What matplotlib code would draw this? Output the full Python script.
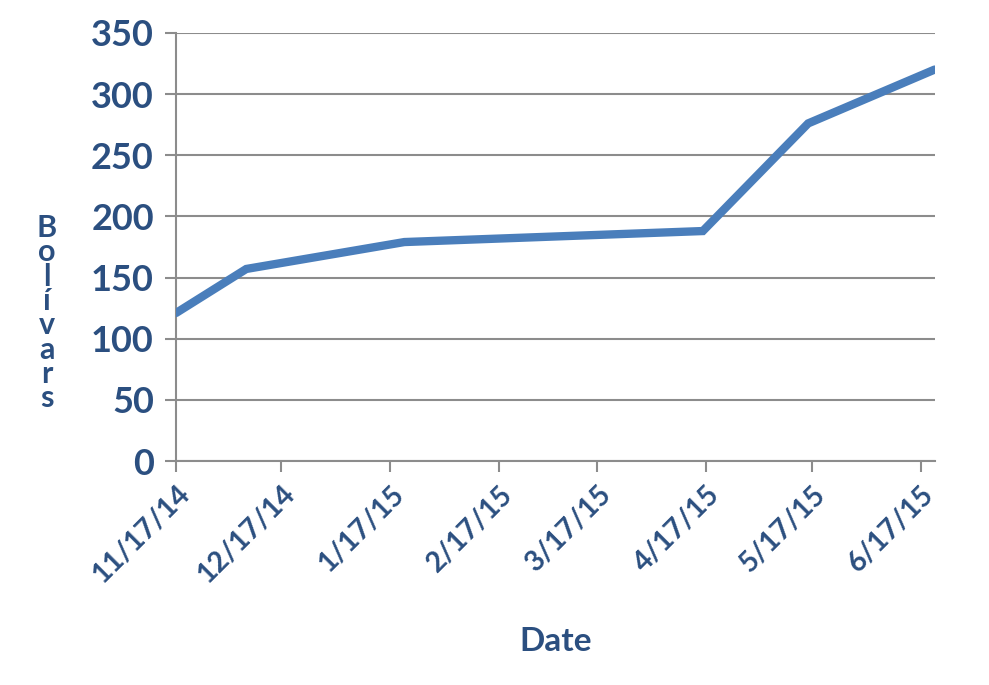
import datetime as dt
import matplotlib
matplotlib.use("Agg")
import matplotlib.pyplot as plt

# data
dates = ["2014-11-17", "2014-12-07", "2015-01-21", "2015-04-16", "2015-05-16", "2015-06-21"]
bolivars = [121, 157, 179, 188, 276, 320]
tick_dates = ["2014-11-17", "2014-12-17", "2015-01-17", "2015-02-17",
              "2015-03-17", "2015-04-17", "2015-05-17", "2015-06-17"]
tick_labels = ["11/17/14", "12/17/14", "1/17/15", "2/17/15",
               "3/17/15", "4/17/15", "5/17/15", "6/17/15"]
y_ticks = [0, 50, 100, 150, 200, 250, 300, 350]

TEXT = "#2B4F80"
LINE = "#4A7EBB"
GRID = "#8C8C8C"

plt.rcParams["font.family"] = ["Lato", "DejaVu Sans"]
plt.rcParams["font.weight"] = "bold"

x = [dt.datetime.strptime(d, "%Y-%m-%d") for d in dates]
xt = [dt.datetime.strptime(d, "%Y-%m-%d") for d in tick_dates]

fig = plt.figure(figsize=(9.89, 6.85), dpi=100)
ax = fig.add_axes([0.178, 0.327, 0.767, 0.625])

ax.plot(x, bolivars, color=LINE, lw=6, solid_capstyle="round", solid_joinstyle="miter", zorder=3)

ax.set_xlim(x[0], x[-1])
ax.set_ylim(0, 350)
ax.set_yticks(y_ticks)
ax.set_xticks(xt)
ax.set_xticklabels(tick_labels, rotation=45, ha="right", rotation_mode="anchor",
                   fontsize=20.5, color=TEXT, fontweight="bold")
ax.set_yticklabels([str(v) for v in y_ticks], fontsize=26, color=TEXT, fontweight="bold")

ax.grid(axis="y", color=GRID, lw=1.5)
ax.set_axisbelow(True)
for s in ["top", "right"]:
    ax.spines[s].set_visible(False)
for s in ["left", "bottom"]:
    ax.spines[s].set_color(GRID)
    ax.spines[s].set_linewidth(1.5)
ax.tick_params(axis="both", color=GRID, width=1.5, length=8, direction="out")
ax.tick_params(axis="y", pad=8)
ax.tick_params(axis="x", pad=6)

ax.set_xlabel("Date", fontsize=24, color=TEXT, fontweight="bold", labelpad=28)
fig.text(0.047, 0.543, "B\no\nl\ní\nv\na\nr\ns", ha="center", va="center",
         fontsize=22, color=TEXT, fontweight="bold", linespacing=0.84)

fig.savefig("out.png", dpi=100)
